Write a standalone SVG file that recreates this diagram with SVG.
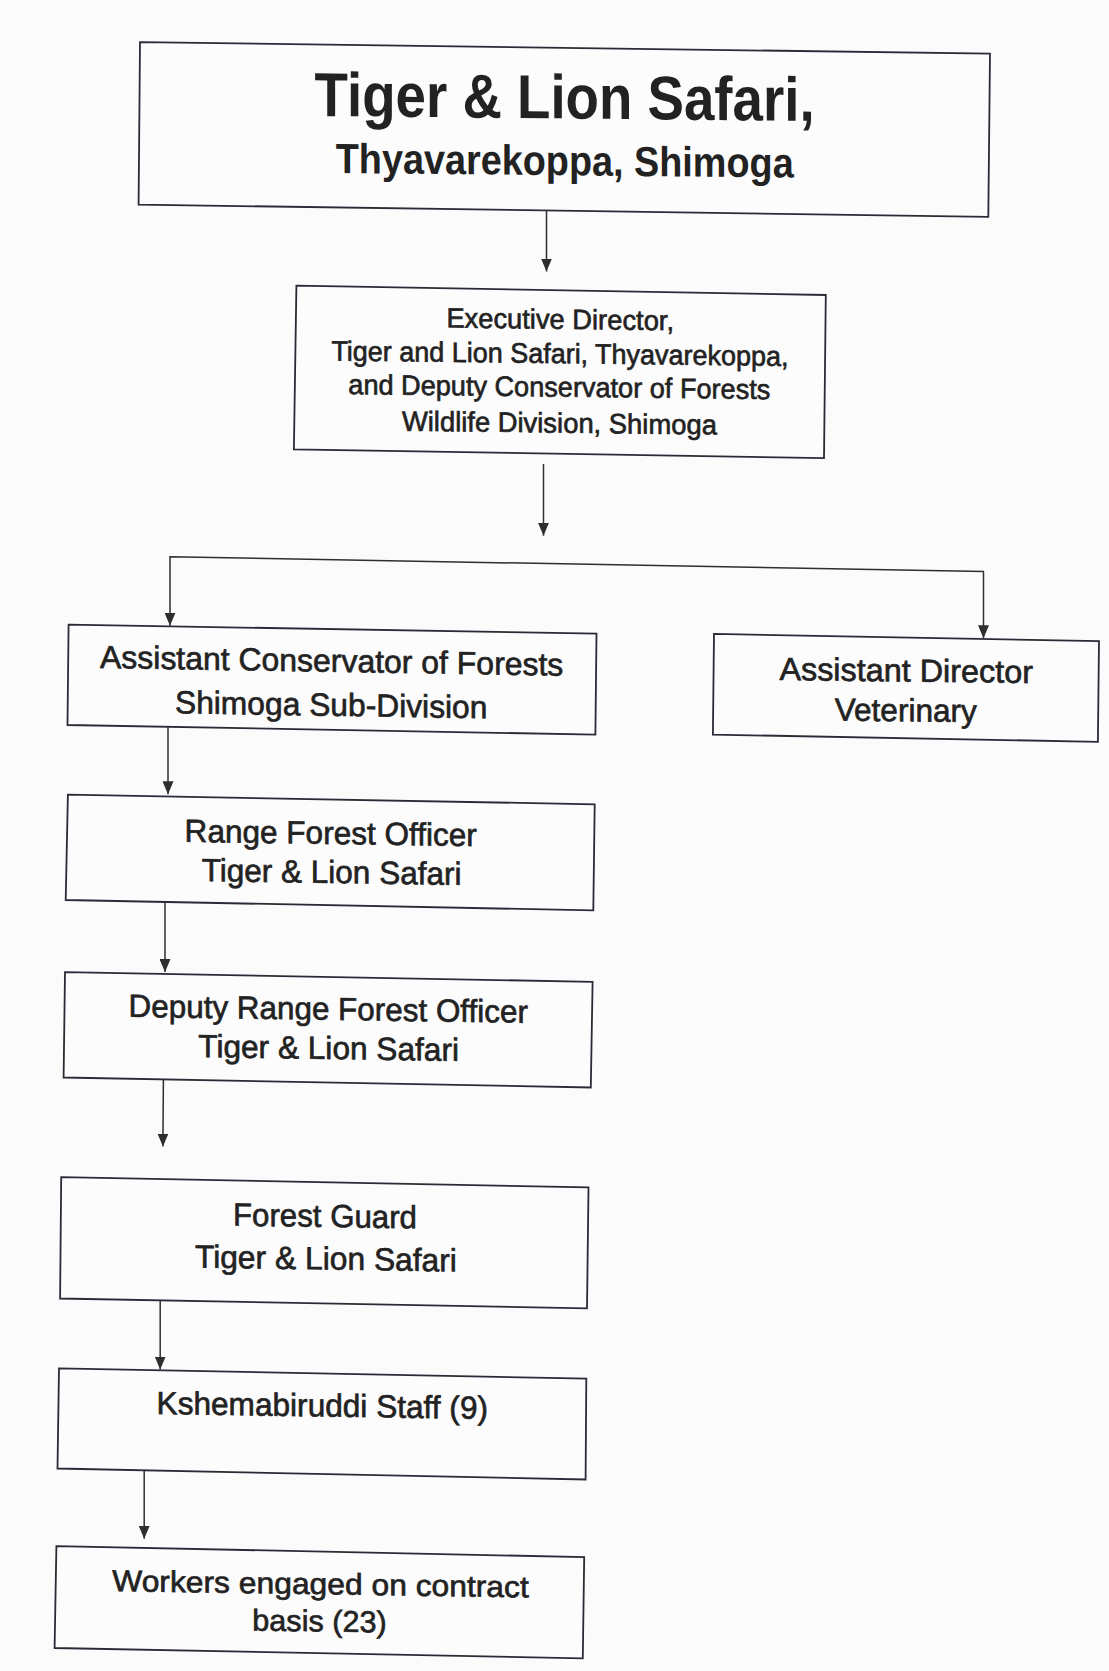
<svg xmlns="http://www.w3.org/2000/svg" width="1109" height="1671" viewBox="0 0 1109 1671">
<defs>
<style>
.box{fill:#fcfcfc;stroke:#2b2b38;stroke-width:1.8}
.t{font-family:"Liberation Sans",Arial,sans-serif;fill:#222222;stroke:#222222;stroke-width:0.65;text-anchor:middle;font-size:32px}
.tb{font-family:"Liberation Sans",Arial,sans-serif;fill:#222222;text-anchor:middle;font-weight:bold}
.e{font-size:28px}
.w{font-size:30px}
.c{fill:none;stroke:#2e2e2e;stroke-width:1.5}
.a{marker-end:url(#arr)}
</style>
<marker id="arr" viewBox="0 0 13 11" refX="13" refY="5.5" markerWidth="13" markerHeight="11" markerUnits="userSpaceOnUse" orient="auto">
<path d="M0,0 L13,5.5 L0,11 z" fill="#2e2e2e"/>
</marker>
</defs>
<rect x="0" y="0" width="1109" height="1671" fill="#fbfbfb"/>

<g id="connectors">
<path class="c a" d="M546.5,210.5 V271.5"/>
<path class="c a" d="M543.5,464 V535.7"/>
<path class="c a" d="M984,571.4 L170,556.8 V625.7"/>
<path class="c a" d="M983.5,571.4 V638.2"/>
<path class="c a" d="M168,726 V794.3"/>
<path class="c a" d="M165,901.5 V972.1"/>
<path class="c a" d="M163.4,1079.3 L162.9,1146.6"/>
<path class="c a" d="M160.2,1299.6 V1369.5"/>
<path class="c a" d="M144.2,1469.6 V1538.8"/>
</g>

<g id="safari">
<polygon class="box" points="140,42.1 990,53.6 988.3,216.8 138.6,204.6"/>
<g transform="matrix(1 0.01 0 1 0 -5.65)">
<text class="tb" x="564.6" y="118.5" font-size="62" textLength="500" lengthAdjust="spacingAndGlyphs">Tiger &amp; Lion Safari,</text>
<text class="tb" x="564.7" y="175.2" font-size="42" textLength="458" lengthAdjust="spacingAndGlyphs">Thyavarekoppa, Shimoga</text>
</g>
</g>

<g id="executive-director">
<polygon class="box" points="296.4,285.7 825.8,295 824,458.2 293.9,449.3"/>
<g transform="matrix(1 0.012 0 1 0 -6.72)">
<text class="t e" x="560.2" y="328.9" textLength="227.6" lengthAdjust="spacingAndGlyphs">Executive Director,</text>
<text class="t e" x="559.9" y="363.2" textLength="457" lengthAdjust="spacingAndGlyphs">Tiger and Lion Safari, Thyavarekoppa,</text>
<text class="t e" x="559.3" y="396.6" textLength="422" lengthAdjust="spacingAndGlyphs">and Deputy Conservator of Forests</text>
<text class="t e" x="559.4" y="432.6" textLength="315" lengthAdjust="spacingAndGlyphs">Wildlife Division, Shimoga</text>
</g>
</g>

<g id="acf">
<polygon class="box" points="68.6,624.6 596.5,633.6 595.4,734.6 67.5,725"/>
<g transform="matrix(1 0.0168 0 1 0 -5.57)">
<text class="t" x="331.7" y="671.8" textLength="463.3" lengthAdjust="spacingAndGlyphs">Assistant Conservator of Forests</text>
<text class="t" x="331.2" y="715.8" textLength="312.5" lengthAdjust="spacingAndGlyphs">Shimoga Sub-Division</text>
</g>
</g>

<g id="assistant-director">
<polygon class="box" points="714,633.9 1099,641.1 1097.9,741.8 712.9,734.6"/>
<g transform="matrix(1 0.012 0 1 0 -10.87)">
<text class="t" x="906.2" y="681.5" textLength="253.5" lengthAdjust="spacingAndGlyphs">Assistant Director</text>
<text class="t" x="905.8" y="721.3" textLength="142.2" lengthAdjust="spacingAndGlyphs">Veterinary</text>
</g>
</g>

<g id="rfo">
<polygon class="box" points="67.9,794.6 594.7,804.3 593.3,910.4 65.7,900"/>
<g transform="matrix(1 0.015 0 1 0 -4.96)">
<text class="t" x="330.7" y="844" textLength="292.2" lengthAdjust="spacingAndGlyphs">Range Forest Officer</text>
<text class="t" x="331.6" y="883" textLength="259.6" lengthAdjust="spacingAndGlyphs">Tiger &amp; Lion Safari</text>
</g>
</g>

<g id="drfo">
<polygon class="box" points="65,972.1 592.6,981.8 590.8,1087.5 63.6,1077.5"/>
<g transform="matrix(1 0.015 0 1 0 -4.92)">
<text class="t" x="328.2" y="1019.8" textLength="399.3" lengthAdjust="spacingAndGlyphs">Deputy Range Forest Officer</text>
<text class="t" x="328.6" y="1059" textLength="260.7" lengthAdjust="spacingAndGlyphs">Tiger &amp; Lion Safari</text>
</g>
</g>

<g id="forest-guard">
<polygon class="box" points="61.2,1177.2 588.5,1187.4 587,1308.3 60.1,1298.5"/>
<g transform="matrix(1 0.015 0 1 0 -4.88)">
<text class="t" x="325" y="1227" textLength="184" lengthAdjust="spacingAndGlyphs">Forest Guard</text>
<text class="t" x="325.9" y="1269.5" textLength="262" lengthAdjust="spacingAndGlyphs">Tiger &amp; Lion Safari</text>
</g>
</g>

<g id="kshemabiruddi">
<polygon class="box" points="59,1368.4 586.3,1378.6 585.6,1479.5 57.5,1468.5"/>
<g transform="matrix(1 0.015 0 1 0 -4.83)">
<text class="t" x="322.3" y="1416.5" textLength="331.4" lengthAdjust="spacingAndGlyphs">Kshemabiruddi Staff (9)</text>
</g>
</g>

<g id="workers">
<polygon class="box" points="56.4,1546.1 584.2,1557.1 582.8,1658.3 54.6,1648"/>
<g transform="matrix(1 0.015 0 1 0 -4.8)">
<text class="t w" x="320.5" y="1594.2" textLength="416.6" lengthAdjust="spacingAndGlyphs">Workers engaged on contract</text>
<text class="t w" x="319.5" y="1631.4" textLength="134.3" lengthAdjust="spacingAndGlyphs">basis (23)</text>
</g>
</g>
</svg>
